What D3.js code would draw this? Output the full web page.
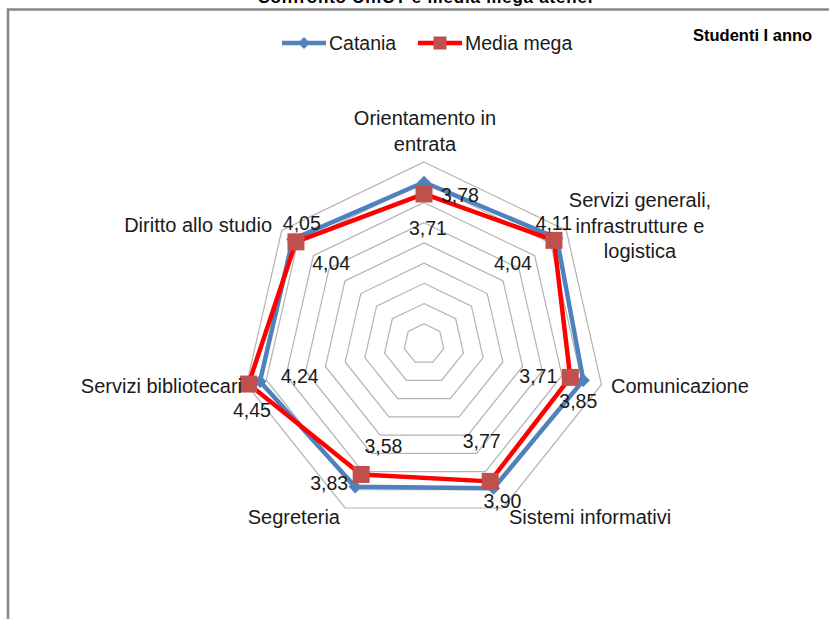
<!DOCTYPE html>
<html>
<head>
<meta charset="utf-8">
<script src="https://cdn.jsdelivr.net/npm/d3@7"></script>
<style>
  body { margin: 0; background: #fff; }
  svg { display: block; font-family: "Liberation Sans", Arial, sans-serif; }
</style>
</head>
<body>
<svg id="radar" width="829" height="619"></svg>
<script>
// categories (axes, clockwise from the top)
var categories = [
	["Orientamento in", "entrata"],
	["Servizi generali,", "infrastrutture e", "logistica"],
	["Comunicazione"],
	["Sistemi informativi"],
	["Segreteria"],
	["Servizi bibliotecari"],
	["Diritto allo studio"]
];

// series values as plotted
var catania = [4.00, 4.20, 4.04, 3.96, 3.92, 4.16, 4.15];
var mediaMega = [3.71, 4.11, 3.71, 3.77, 3.58, 4.45, 4.05];

// data label texts as shown on the chart
var outerLabels = ["3,78", "4,11", "3,85", "3,90", "3,83", "4,45", "4,05"];
var innerLabels = ["3,71", "4,04", "3,71", "3,77", "3,58", "4,24", "4,04"];

// radial axis ticks
var ticks = [0.5, 1, 1.5, 2, 2.5, 3, 3.5, 4, 4.5];

var cx = 424, cy = 344;

var svg = d3.select('#radar');

var rScale = d3.scaleLinear()
	.domain([0, 4.5])
	.range([0, 182]);

var angleScale = d3.scaleLinear()
	.domain([0, categories.length])
	.range([0, 2*Math.PI]);

var radial = d3.lineRadial()
	.angle(function(d, i) { return angleScale(i); })
	.radius(function(d) { return rScale(d); })
	.curve(d3.curveLinearClosed);

function pt(i, v) {
	var p = d3.pointRadial(angleScale(i), rScale(v));
	return [cx + p[0], cy + p[1]];
}

// frame + (cut off) title
svg.append('path')
	.attr('d', 'M8,619V9.5H829')
	.attr('fill', 'none')
	.attr('stroke', '#868686')
	.attr('stroke-width', 2.5);

svg.append('text')
	.attr('x', 425).attr('y', 3)
	.attr('text-anchor', 'middle')
	.attr('font-weight', 'bold')
	.attr('font-size', 17)
	.attr('textLength', 335)
	.attr('fill', '#000')
	.text('Confronto UniCT e media mega atenei');

svg.append('text')
	.attr('x', 693).attr('y', 41)
	.attr('font-weight', 'bold')
	.attr('font-size', 16.5)
	.attr('fill', '#000')
	.text('Studenti I anno');

var g = svg.append('g').attr('transform', 'translate(' + cx + ',' + cy + ')');

// grid heptagons
g.selectAll('.grid')
	.data(ticks)
	.enter().append('path')
	.attr('class', 'grid')
	.attr('d', function(t) { return radial(categories.map(function() { return t; })); })
	.attr('fill', 'none')
	.attr('stroke', '#b3b3b3')
	.attr('stroke-width', 1.2);

// series
g.append('path')
	.attr('d', radial(catania))
	.attr('fill', 'none')
	.attr('stroke', '#4f81bd')
	.attr('stroke-width', 4.5)
	.attr('stroke-linejoin', 'round');

svg.selectAll('.cat-pt')
	.data(catania)
	.enter().append('path')
	.attr('class', 'cat-pt')
	.attr('d', d3.symbol().type(d3.symbolDiamond2).size(110))
	.attr('transform', function(d, i) { var p = pt(i, d); return 'translate(' + p[0] + ',' + p[1] + ')'; })
	.attr('fill', '#4f81bd');

g.append('path')
	.attr('d', radial(mediaMega))
	.attr('fill', 'none')
	.attr('stroke', '#ff0000')
	.attr('stroke-width', 4.5)
	.attr('stroke-linejoin', 'round');

svg.selectAll('.med-pt')
	.data(mediaMega)
	.enter().append('rect')
	.attr('class', 'med-pt')
	.attr('x', function(d, i) { return pt(i, d)[0] - 8.5; })
	.attr('y', function(d, i) { return pt(i, d)[1] - 8.5; })
	.attr('width', 17).attr('height', 17)
	.attr('fill', '#c0504d');

// data labels (offsets are layout only)
var outerOff = [[36, 20], [-3, -8], [-5, 28], [9, 20], [-26, 3], [-8, 36], [9, -9]];
var innerOff = [[4, 12], [-6, 2], [-4, 12], [5, -5], [12, 0], [-6, 12], [2, 2]];

svg.selectAll('.lbl-out')
	.data(outerLabels)
	.enter().append('text')
	.attr('class', 'lbl-out')
	.attr('x', function(d, i) { return pt(i, catania[i])[0] + outerOff[i][0]; })
	.attr('y', function(d, i) { return pt(i, catania[i])[1] + outerOff[i][1]; })
	.attr('text-anchor', 'middle')
	.attr('font-size', 19.5)
	.attr('fill', '#1a1a1a')
	.text(function(d) { return d; });

svg.selectAll('.lbl-in')
	.data(innerLabels)
	.enter().append('text')
	.attr('class', 'lbl-in')
	.attr('x', function(d, i) { return pt(i, 3)[0] + innerOff[i][0]; })
	.attr('y', function(d, i) { return pt(i, 3)[1] + innerOff[i][1]; })
	.attr('text-anchor', 'middle')
	.attr('font-size', 19.5)
	.attr('fill', '#1a1a1a')
	.text(function(d) { return d; });

// category labels
var catPos = [
	{x: 425, y: 125, a: 'middle'},
	{x: 640, y: 207, a: 'middle'},
	{x: 611, y: 393, a: 'start'},
	{x: 509, y: 524, a: 'start'},
	{x: 340, y: 524, a: 'end'},
	{x: 242, y: 393, a: 'end'},
	{x: 272, y: 232, a: 'end'}
];

categories.forEach(function(lines, i) {
	var t = svg.append('text')
		.attr('x', catPos[i].x)
		.attr('y', catPos[i].y)
		.attr('text-anchor', catPos[i].a)
		.attr('font-size', 20)
		.attr('fill', '#1a1a1a');
	lines.forEach(function(l, j) {
		t.append('tspan')
			.attr('x', catPos[i].x)
			.attr('dy', j === 0 ? 0 : 25.5)
			.text(l);
	});
});

// legend
var legend = [
	{name: 'Catania', color: '#4f81bd', x: 282},
	{name: 'Media mega', color: '#ff0000', x: 418}
];
var lg = svg.selectAll('.legend')
	.data(legend)
	.enter().append('g')
	.attr('class', 'legend')
	.attr('transform', function(d) { return 'translate(' + d.x + ',43)'; });

lg.append('line')
	.attr('x1', 0).attr('x2', 44)
	.attr('stroke', function(d) { return d.color; })
	.attr('stroke-width', 4.5);

lg.each(function(d, i) {
	var s = d3.select(this);
	if (i === 0) {
		s.append('path')
			.attr('d', d3.symbol().type(d3.symbolDiamond2).size(90))
			.attr('transform', 'translate(22,0)')
			.attr('fill', '#4f81bd');
	} else {
		s.append('rect')
			.attr('x', 15.5).attr('y', -6.5)
			.attr('width', 13).attr('height', 13)
			.attr('fill', '#c0504d');
	}
});

lg.append('text')
	.attr('x', 47).attr('y', 7)
	.attr('font-size', 19.5)
	.attr('fill', '#1a1a1a')
	.text(function(d) { return d.name; });
</script>
</body>
</html>
